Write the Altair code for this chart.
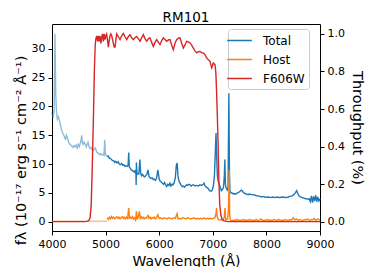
import altair as alt
import pandas as pd

# ---------------- data ----------------
wl_total_light = [4000, 4020, 4040, 4055, 4070, 4085, 4100, 4120, 4140, 4160, 4180, 4200,
                  4220, 4240, 4250, 4270, 4290, 4310, 4330, 4350, 4373, 4390, 4410, 4430,
                  4450, 4470, 4490, 4510, 4528, 4540, 4554, 4565, 4580, 4600, 4622, 4640,
                  4655, 4672, 4690, 4710, 4730, 4750, 4770, 4790, 4808, 4830, 4850, 4871,
                  4890, 4910, 4930, 4950, 4970, 4983, 4995, 5010, 5030]
flux_total_light = [18.9, 18.0, 19.5, 32.6, 22.0, 18.9, 17.8, 18.2, 17.5, 16.6, 15.9, 15.4,
                    15.0, 14.6, 14.2, 15.0, 14.5, 13.8, 13.5, 13.3, 13.1, 12.9, 13.2, 13.0,
                    13.3, 12.8, 13.4, 13.0, 13.6, 14.0, 15.0, 13.8, 13.4, 13.8, 13.4, 13.0,
                    13.4, 13.8, 13.1, 12.7, 12.9, 12.5, 12.4, 12.6, 12.8, 12.2, 11.9, 11.9,
                    11.6, 11.8, 11.6, 11.7, 11.5, 14.2, 11.8, 11.5, 11.3]

wl_total = [5030, 5050, 5070, 5088, 5110, 5130, 5150, 5170, 5190, 5213, 5235, 5255, 5275,
            5300, 5320, 5340, 5360, 5380, 5400, 5420, 5431, 5442, 5460, 5480, 5500, 5520,
            5540, 5555, 5565, 5570, 5575, 5585, 5600, 5620, 5640, 5655, 5670, 5690, 5710,
            5730, 5750, 5770, 5790, 5810, 5830, 5850, 5870, 5890, 5910, 5930, 5950, 5975,
            6000, 6020, 6040, 6060, 6080, 6100, 6120, 6140, 6160, 6180, 6200, 6220, 6240,
            6260, 6280, 6300, 6320, 6335, 6350, 6370, 6390, 6410, 6430, 6450, 6470, 6490,
            6510, 6530, 6550, 6575, 6600, 6620, 6644, 6670, 6700, 6730, 6760, 6790, 6820,
            6835, 6850, 6880, 6910, 6940, 6970, 6990, 7010, 7030, 7045, 7060, 7070, 7085,
            7100, 7120, 7140, 7160, 7180, 7200, 7215, 7225, 7235, 7250, 7270, 7285, 7300,
            7310, 7320, 7340, 7360, 7383, 7400, 7420, 7440, 7460, 7480, 7500, 7520, 7540,
            7560, 7580, 7600, 7630, 7660, 7690, 7720, 7756, 7790, 7820, 7850, 7880, 7910,
            7940, 7970, 8000, 8040, 8080, 8120, 8160, 8200, 8240, 8280, 8320, 8360, 8400,
            8440, 8480, 8510, 8540, 8565, 8585, 8610, 8640, 8670, 8700, 8730, 8750, 8780,
            8800, 8820, 8840, 8860, 8880, 8900, 8920, 8940, 8960, 8980, 9000]
flux_total = [11.3, 11.4, 11.0, 11.0, 10.8, 10.6, 10.6, 10.3, 10.5, 10.2, 10.4, 10.0, 9.9,
              10.1, 9.8, 9.9, 9.6, 9.7, 9.6, 9.8, 12.0, 9.5, 9.3, 9.0, 8.9, 8.7,
              8.8, 8.4, 9.0, 6.4, 10.3, 8.2, 8.4, 8.3, 10.8, 8.4, 8.0, 8.2, 7.9,
              7.8, 8.0, 8.2, 9.0, 7.9, 7.6, 7.5, 7.6, 7.3, 7.4, 7.2, 7.5, 9.0,
              7.4, 7.0, 6.9, 6.7, 6.5, 6.8, 6.4, 6.1, 6.5, 6.3, 6.7, 6.2, 6.5,
              6.4, 6.8, 7.6, 9.8, 10.2, 8.0, 7.0, 6.7, 6.3, 6.1, 6.2, 6.0, 6.2,
              6.4, 6.3, 6.5, 6.4, 6.2, 6.4, 6.4, 6.2, 6.3, 6.2, 6.4, 6.3, 6.5,
              6.7, 6.3, 6.0, 5.8, 5.4, 5.3, 5.5, 6.2, 8.0, 11.5, 15.4, 12.0, 8.0,
              7.0, 6.5, 6.0, 5.4, 5.6, 6.0, 8.0, 10.8, 6.5, 5.8, 5.5, 6.0, 22.3,
              9.0, 5.3, 5.0, 5.0, 4.8, 4.9, 4.8, 4.9, 5.0, 5.1, 5.2, 5.4, 5.5,
              5.2, 5.0, 4.9, 4.8, 4.7, 4.8, 4.7, 4.7, 4.6, 4.5, 4.5, 4.4, 4.3,
              4.4, 4.3, 4.25, 4.3, 4.2, 4.3, 4.2, 4.3, 4.2, 4.25, 4.3, 4.2, 4.25,
              4.4, 4.5, 4.7, 5.0, 5.4, 4.9, 4.5, 4.3, 4.2, 4.1, 4.0, 4.0, 3.9,
              4.0, 3.5, 4.5, 3.3, 4.4, 3.6, 4.6, 3.5, 4.3, 3.6, 4.0]

wl_host_light = [4000, 4500, 5030]
flux_host_light = [0.1, 0.1, 0.1]

wl_host = [5030, 5050, 5070, 5090, 5110, 5130, 5150, 5170, 5190, 5210, 5230, 5250, 5270,
           5290, 5310, 5330, 5350, 5370, 5390, 5410, 5431, 5445, 5460, 5480, 5500, 5520,
           5540, 5560, 5575, 5590, 5610, 5630, 5645, 5660, 5680, 5700, 5720, 5740, 5760,
           5790, 5810, 5830, 5850, 5870, 5890, 5910, 5930, 5950, 5975, 6000, 6030, 6060,
           6090, 6120, 6150, 6180, 6210, 6240, 6270, 6300, 6335, 6350, 6380, 6410, 6440,
           6470, 6500, 6530, 6560, 6590, 6620, 6650, 6680, 6710, 6740, 6770, 6800, 6830,
           6860, 6890, 6920, 6950, 6980, 7010, 7040, 7060, 7070, 7080, 7100, 7130, 7160,
           7190, 7215, 7228, 7240, 7260, 7280, 7295, 7305, 7315, 7330, 7360, 7390, 7420,
           7450, 7480, 7510, 7540, 7570, 7600, 7630, 7660, 7690, 7720, 7750, 7780, 7810,
           7840, 7870, 7900, 7930, 7960, 7990, 8020, 8050, 8080, 8110, 8140, 8170, 8200,
           8230, 8260, 8290, 8320, 8350, 8380, 8410, 8440, 8470, 8500, 8530, 8560, 8590,
           8620, 8650, 8680, 8710, 8740, 8770, 8800, 8830, 8860, 8890, 8920, 8950, 8980, 9000]
flux_host = [0.7, 0.4, 0.8, 0.5, 0.9, 0.6, 0.8, 0.5, 0.7, 0.9, 0.6, 0.8, 0.5,
             0.7, 0.9, 0.6, 0.8, 0.5, 0.8, 0.6, 2.4, 0.5, 0.8, 0.6, 0.9, 0.5,
             0.7, 0.3, 1.8, 0.4, 0.9, 1.8, 0.6, 0.9, 0.6, 0.8, 0.5, 0.7, 0.6,
             1.1, 0.6, 0.8, 0.5, 0.7, 0.6, 0.8, 0.5, 0.7, 1.2, 0.6, 0.7, 0.5,
             0.7, 0.6, 0.5, 0.7, 0.6, 0.5, 0.7, 0.6, 1.4, 0.5, 0.6, 0.5, 0.7,
             0.6, 0.5, 0.7, 0.6, 0.5, 0.6, 0.7, 0.5, 0.6, 0.5, 0.6, 0.5, 0.7,
             0.5, 0.6, 0.5, 0.6, 0.5, 0.6, 0.7, 1.5, 2.4, 1.0, 0.4, 0.3, 0.4,
             0.3, 0.8, 2.4, 0.3, 0.4, 0.5, 3.0, 9.0, 1.0, 0.3, 0.2, 0.3, 0.2,
             0.4, 0.2, 0.3, 0.2, 0.4, 0.2, 0.3, 0.2, 0.4, 0.2, 0.3, 0.2, 0.4,
             0.2, 0.3, 0.5, 0.2, 0.3, 0.2, 0.4, 0.2, 0.3, 0.2, 0.4, 0.3, 0.2,
             0.4, 0.2, 0.3, 0.2, 0.4, 0.3, 0.2, 0.4, 0.3, 0.7, 0.3, 0.5, 0.2,
             0.4, 0.3, 0.2, 0.4, 0.3, 0.5, 0.2, 0.4, 0.3, 0.6, 0.2, 0.5, 0.3, 0.4]

wl_filter = [4000, 4600, 4650, 4685, 4710, 4730, 4745, 4760, 4775, 4790, 4805, 4815, 4834,
             4850, 4865, 4880, 4896, 4912, 4927, 4942, 4958, 4973, 4989, 5005, 5020, 5035,
             5051, 5066, 5082, 5098, 5114, 5130, 5144, 5160, 5176, 5192, 5207, 5238, 5269,
             5300, 5331, 5362, 5394, 5424, 5455, 5486, 5517, 5548, 5580, 5611, 5642, 5673,
             5704, 5735, 5767, 5798, 5829, 5860, 5891, 5922, 5954, 5985, 6015, 6046, 6077,
             6108, 6140, 6171, 6202, 6233, 6264, 6295, 6326, 6357, 6388, 6420, 6450, 6480,
             6513, 6545, 6575, 6606, 6637, 6668, 6700, 6730, 6762, 6793, 6824, 6855, 6886,
             6917, 6948, 6965, 6980, 6995, 7010, 7030, 7042, 7052, 7060, 7072, 7085, 7100,
             7113, 7130, 7150, 7175, 7200, 7250, 7300, 9000]
thr_filter = [0.0, 0.0, 0.001, 0.005, 0.02, 0.08, 0.22, 0.40, 0.58, 0.80, 0.93, 0.97, 0.99,
              0.96, 0.99, 0.96, 0.99, 0.95, 0.98, 1.0, 0.96, 1.0, 0.97, 0.99, 1.0, 0.97,
              0.93, 0.96, 0.99, 1.0, 0.99, 0.97, 0.95, 0.93, 0.93, 0.97, 1.0, 0.985, 0.97,
              0.99, 1.003, 0.985, 0.97, 0.985, 0.996, 0.98, 0.97, 0.98, 0.987, 0.975, 0.961, 0.98,
              0.996, 0.975, 0.961, 0.975, 0.979, 0.955, 0.934, 0.955, 0.970, 0.955, 0.943, 0.965, 0.979,
              0.97, 0.961, 0.968, 0.970, 0.94, 0.916, 0.95, 0.970, 0.977, 0.979, 0.95, 0.925, 0.94,
              0.961, 0.958, 0.952, 0.94, 0.925, 0.91, 0.899, 0.905, 0.907, 0.90, 0.899, 0.89, 0.872,
              0.862, 0.854, 0.835, 0.819, 0.832, 0.845, 0.84, 0.836, 0.81, 0.775, 0.68, 0.56, 0.40,
              0.22, 0.09, 0.035, 0.012, 0.005, 0.001, 0.0, 0.0]

series_names = ["Total", "Host", "F606W"]
series_colors = ["#1f77b4", "#ff7f0e", "#d62728"]

x_ticks = [4000, 5000, 6000, 7000, 8000, 9000]
y_left_ticks = [0, 5, 10, 15, 20, 25, 30]
y_right_ticks = [0.0, 0.2, 0.4, 0.6, 0.8, 1.0]

# ---------------- frames ----------------
df_tl = pd.DataFrame({"wl": wl_total_light, "f": flux_total_light})
df_t = pd.DataFrame({"wl": wl_total, "f": flux_total, "series": "Total"})
df_hl = pd.DataFrame({"wl": wl_host_light, "f": flux_host_light})
df_h = pd.DataFrame({"wl": wl_host, "f": flux_host, "series": "Host"})
df_f = pd.DataFrame({"wl": wl_filter, "t": thr_filter, "series": "F606W"})

FONT = "DejaVu Sans"

x_enc = alt.X("wl:Q",
              scale=alt.Scale(domain=[4000, 9000], nice=False, zero=False),
              axis=alt.Axis(values=x_ticks, format="d", labelFlush=False,
                            title="Wavelength (Å)"))

y_left_scale = alt.Scale(domain=[-1.6, 34.3], nice=False, zero=False)
y_left_axis = alt.Axis(values=y_left_ticks, format="d",
                       title="fλ (10⁻¹⁷ erg s⁻¹ cm⁻² Å⁻¹)", titleY=126,
                       titleFontSize=14.5, titlePadding=3)

color_scale = alt.Scale(domain=series_names, range=series_colors)
legend = alt.Legend(title=None, orient="none", legendX=176, legendY=5,
                    symbolType="M-1.9,0H1.9", symbolSize=169, symbolStrokeWidth=1.5,
                    labelFontSize=12, labelFont=FONT, labelOffset=16,
                    rowPadding=5, padding=4, fillColor="rgba(255,255,255,0.8)",
                    strokeColor="#cccccc", cornerRadius=3)

base_line = dict(strokeWidth=1.4, interpolate="linear")

tl = alt.Chart(df_tl).mark_line(color="#1f77b4", opacity=0.5, **base_line).encode(
    x=x_enc, y=alt.Y("f:Q", scale=y_left_scale, axis=y_left_axis))
t = alt.Chart(df_t).mark_line(**base_line).encode(
    x=x_enc, y=alt.Y("f:Q", scale=y_left_scale, axis=y_left_axis),
    color=alt.Color("series:N", scale=color_scale, legend=legend))
hl = alt.Chart(df_hl).mark_line(color="#ff7f0e", opacity=0.5, **base_line).encode(
    x=x_enc, y=alt.Y("f:Q", scale=y_left_scale, axis=y_left_axis))
h = alt.Chart(df_h).mark_line(**base_line).encode(
    x=x_enc, y=alt.Y("f:Q", scale=y_left_scale, axis=y_left_axis),
    color=alt.Color("series:N", scale=color_scale, legend=legend))

left = alt.layer(tl, t, hl, h)

right = alt.Chart(df_f).mark_line(**base_line).encode(
    x=x_enc,
    y=alt.Y("t:Q", scale=alt.Scale(domain=[-0.05, 1.053], nice=False, zero=False),
            axis=alt.Axis(values=y_right_ticks, format=".1f", orient="right",
                          title="Throughput (%)", titleFontSize=14.5)),
    color=alt.Color("series:N", scale=color_scale, legend=legend))

chart = alt.layer(left, right).resolve_scale(y="independent").properties(
    width=268, height=207,
    title=alt.TitleParams("RM101", fontSize=13.5, font=FONT, fontWeight="normal",
                          color="black", offset=0),
    autosize=alt.AutoSizeParams(type="none"),
    padding={"left": 44, "top": 16, "right": 46, "bottom": 36},
).configure_view(stroke="black", strokeWidth=1).configure_axis(
    grid=False, domain=False, ticks=True, tickColor="black", tickSize=4,
    labelFont=FONT, labelFontSize=11, labelColor="black", labelPadding=3,
    titleFont=FONT, titleFontSize=14, titleFontWeight="normal", titleColor="black",
    titlePadding=5,
)

chart.save("out.html", embed_options={"renderer": "svg", "actions": False})
